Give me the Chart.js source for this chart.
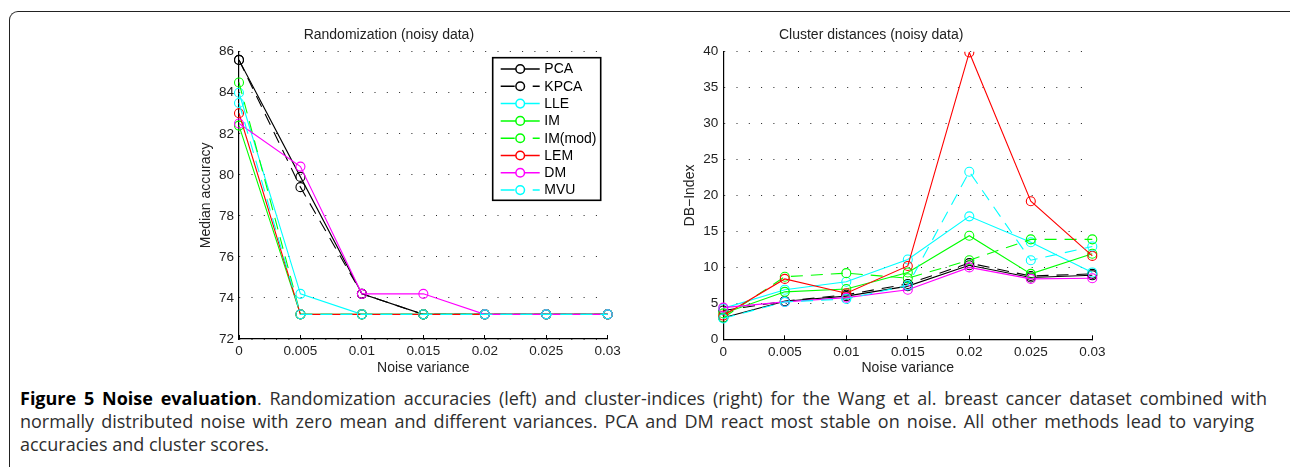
<!DOCTYPE html>
<html>
<head>
<meta charset="utf-8">
<script src="https://cdn.jsdelivr.net/npm/chart.js@4/dist/chart.umd.min.js"></script>
<style>
html,body{margin:0;padding:0;background:#fff;width:1290px;height:467px;overflow:hidden;}
#frame{position:absolute;left:9px;top:11px;width:1320px;height:500px;border-top:1.3px solid #222;border-left:1.3px solid #222;border-top-left-radius:9px;}
#w1{position:absolute;left:170px;top:15px;width:470px;height:370px;}
#w2{position:absolute;left:650px;top:15px;width:480px;height:370px;}
#caption{position:absolute;left:20px;top:387px;font-family:'Open Sans',sans-serif;font-size:18px;line-height:23.2px;color:#2e2e2e;white-space:nowrap;}
#caption .ln{display:block;text-align:justify;text-align-last:justify;}
#caption .last{display:block;text-align:left;}
#caption b{color:#000;font-weight:700;}
</style>
</head>
<body>
<div id="frame"></div>
<div id="w1"><canvas id="c1" width="470" height="370"></canvas></div>
<div id="w2"><canvas id="c2" width="480" height="370"></canvas></div>
<div id="caption"><span class="ln" style="width:1247px"><b>Figure 5 Noise evaluation</b>. Randomization accuracies (left) and cluster-indices (right) for the Wang et al. breast cancer dataset combined with</span><span class="ln" style="width:1234px">normally distributed noise with zero mean and different variances. PCA and DM react most stable on noise. All other methods lead to varying</span><span class="last">accuracies and cluster scores.</span></div>
<script>
// ---- data ----
const xLabels = ['0', '0.005', '0.01', '0.015', '0.02', '0.025', '0.03'];
const seriesNames = ['PCA', 'KPCA', 'LLE', 'IM', 'IM(mod)', 'LEM', 'DM', 'MVU'];

// Median accuracy (left)
const accPCA   = [85.6, 79.9, 74.2, 73.2, 73.2, 73.2, 73.2];
const accKPCA  = [85.6, 79.4, 74.2, 73.2, 73.2, 73.2, 73.2];
const accLLE   = [84.0, 74.2, 73.2, 73.2, 73.2, 73.2, 73.2];
const accIM    = [82.4, 73.2, 73.2, 73.2, 73.2, 73.2, 73.2];
const accIMmod = [84.5, 73.2, 73.2, 73.2, 73.2, 73.2, 73.2];
const accLEM   = [83.0, 73.2, 73.2, 73.2, 73.2, 73.2, 73.2];
const accDM    = [82.5, 80.4, 74.2, 74.2, 73.2, 73.2, 73.2];
const accMVU   = [83.5, 73.2, 73.2, 73.2, 73.2, 73.2, 73.2];

// DB-Index (right)
const dbPCA   = [3.0, 5.3, 6.0, 7.4, 10.3, 8.6, 8.9];
const dbKPCA  = [4.0, 5.3, 6.2, 7.7, 10.6, 8.8, 9.1];
const dbLLE   = [4.3, 6.9, 8.0, 11.1, 17.1, 13.5, 9.3];
const dbIM    = [3.6, 6.6, 7.0, 9.3, 14.4, 9.1, 11.9];
const dbIMmod = [3.0, 8.7, 9.2, 8.5, 11.0, 13.9, 13.9];
const dbLEM   = [3.3, 8.4, 6.4, 10.2, 39.9, 19.2, 11.6];
const dbDM    = [4.4, 5.2, 5.8, 6.9, 10.0, 8.4, 8.5];
const dbMVU   = [2.9, 5.2, 5.6, 7.5, 23.3, 11.0, 12.9];

const accSeries = [accPCA, accKPCA, accLLE, accIM, accIMmod, accLEM, accDM, accMVU];
const dbSeries  = [dbPCA, dbKPCA, dbLLE, dbIM, dbIMmod, dbLEM, dbDM, dbMVU];

// ---- styles ----
const seriesColors = ['#000000', '#000000', '#00ffff', '#00ff00', '#00ff00', '#ff0000', '#ff00ff', '#00ffff'];
const seriesDashed = [false, true, false, false, true, false, false, true];
const DASH = [12, 8];
const FONT = "'Liberation Sans', Arial, Helvetica, sans-serif";
const TXT = '#222';

function makeDatasets(series) {
  return series.map((vals, i) => ({
    label: seriesNames[i],
    data: vals,
    order: series.length - i,        // later series drawn on top (MATLAB order)
    borderColor: seriesColors[i],
    backgroundColor: 'rgba(0,0,0,0)',
    borderWidth: 1.1,
    borderDash: seriesDashed[i] ? DASH : [],
    pointRadius: 4.5,
    pointBorderWidth: 1.1,
    pointBorderColor: seriesColors[i],
    pointBackgroundColor: 'rgba(0,0,0,0)',
    tension: 0,
    fill: false
  }));
}

const boxLegend = {
  id: 'boxLegend',
  afterDraw(chart, args, opts) {
    if (!opts.show) return;
    const ctx = chart.ctx, a = chart.chartArea;
    const w = opts.width, h = opts.height;
    const x0 = a.right - opts.right - w, y0 = a.top + opts.top;
    ctx.save();
    ctx.fillStyle = '#fff';
    ctx.fillRect(x0, y0, w, h);
    ctx.strokeStyle = '#000';
    ctx.lineWidth = 1.6;
    ctx.setLineDash([]);
    ctx.strokeRect(x0, y0, w, h);
    chart.data.datasets.forEach((ds, i) => {
      const y = y0 + opts.firstRow + i * opts.rowGap;
      ctx.strokeStyle = ds.borderColor;
      ctx.lineWidth = 1.5;
      ctx.setLineDash(ds.borderDash && ds.borderDash.length ? [14, 18] : []);
      ctx.beginPath(); ctx.moveTo(x0 + 8, y); ctx.lineTo(x0 + 47, y); ctx.stroke();
      ctx.setLineDash([]);
      ctx.fillStyle = '#fff';
      ctx.beginPath(); ctx.arc(x0 + 27.5, y, 4.3, 0, Math.PI * 2); ctx.fill(); ctx.stroke();
      ctx.fillStyle = '#000';
      ctx.font = '14px ' + FONT;
      ctx.textBaseline = 'middle';
      ctx.textAlign = 'left';
      ctx.fillText(ds.label, x0 + 51.6, y + 0.5);
    });
    ctx.restore();
  }
};

function makeChart(id, cfg) {
  return new Chart(document.getElementById(id), {
    type: 'line',
    data: { labels: xLabels, datasets: makeDatasets(cfg.series) },
    plugins: [boxLegend],
    options: {
      responsive: false,
      animation: false,
      devicePixelRatio: 1,
      layout: { padding: { left: 0, right: cfg.padRight, top: 0, bottom: 0 } },
      plugins: {
        legend: { display: false },
        tooltip: { enabled: false },
        title: { display: true, text: cfg.title, color: TXT, font: { family: FONT, size: 14, weight: 'normal' }, padding: { top: 11.6, bottom: 8.3 } },
        boxLegend: cfg.legend
      },
      scales: {
        x: {
          type: 'category',
          offset: false,
          grid: { display: true, drawOnChartArea: false, drawTicks: true, tickLength: -4, color: '#000', tickColor: '#000', tickWidth: 1 },
          border: { display: true, color: '#000', width: 1.2 },
          ticks: { color: TXT, font: { family: FONT, size: 13.5 }, padding: 8.6, maxRotation: 0, autoSkip: false },
          title: { display: true, text: 'Noise variance', color: TXT, font: { family: FONT, size: 14 }, padding: { top: 0, bottom: 8.3 } },
          afterFit(s) { s.height = cfg.xHeight; }
        },
        y: {
          min: cfg.yMin, max: cfg.yMax,
          grid: { color: '#222', lineWidth: 1, drawTicks: false },
          border: { display: true, color: '#000', width: 1.2, dash: [1, 11.3] },
          ticks: { stepSize: cfg.yStep, color: TXT, font: { family: FONT, size: 13.5 }, padding: 5 },
          title: { display: true, text: cfg.yTitle, color: TXT, font: { family: FONT, size: 14 }, padding: { top: cfg.yTitlePad, bottom: 0 } },
          afterFit(s) { s.width = cfg.yWidth; }
        }
      }
    }
  });
}

makeChart('c1', {
  series: accSeries, title: 'Randomization (noisy data)', yTitle: 'Median accuracy',
  yMin: 72, yMax: 86, yStep: 2, yWidth: 69, yTitlePad: 28, xHeight: 46, padRight: 32.3,
  legend: { show: true, width: 108, height: 142.6, right: 7, top: 6, firstRow: 11.3, rowGap: 17.3 }
});
makeChart('c2', {
  series: dbSeries, title: 'Cluster distances (noisy data)', yTitle: 'DB\u2212Index',
  yMin: 0, yMax: 40, yStep: 5, yWidth: 73.3, yTitlePad: 31.6, xHeight: 45.7, padRight: 37.7,
  legend: { show: false }
});
</script>
</body>
</html>
